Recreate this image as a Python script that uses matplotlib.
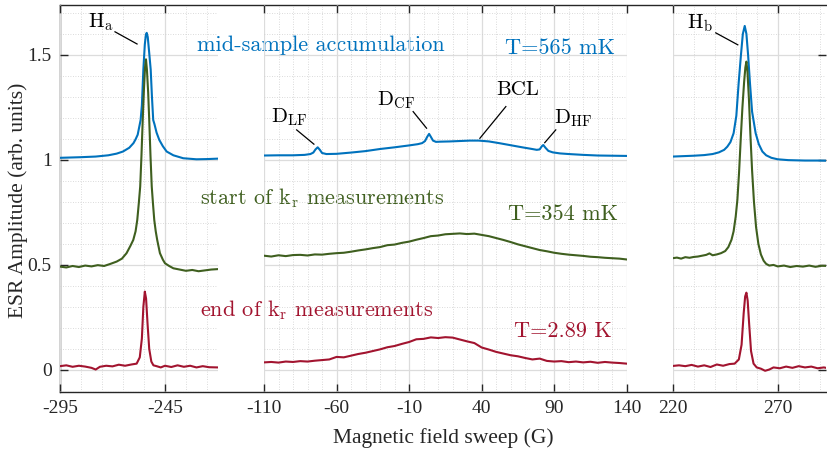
import numpy as np
import matplotlib.pyplot as plt
from matplotlib.ticker import FixedLocator, FuncFormatter

plt.rcParams['axes.unicode_minus'] = False
plt.rcParams['mathtext.fontset'] = 'cm'

# --- dane ---
# panel lewy (linia Ha)
xa_blue = [-295, -285, -278, -272, -268, -265, -262, -260, -259, -258, -257.2, -256.6, -256, -255.3, -254.6,
           -254.1, -253.7, -253.2, -252.6, -251.8, -251.2, -250.6, -250, -249, -247.7, -246, -244.2, -241,
           -236.3, -230, -225, -220]
ya_blue = [1.010, 1.013, 1.016, 1.022, 1.030, 1.040, 1.058, 1.080, 1.098, 1.12, 1.16, 1.19, 1.26, 1.43, 1.55,
           1.595, 1.605, 1.585, 1.52, 1.43, 1.30, 1.19, 1.17, 1.13, 1.095, 1.065, 1.04, 1.022, 1.008, 1.003,
           1.004, 1.006]

xa_green = [-295, -292, -289, -286, -283, -280, -277, -274, -271, -268, -265.5, -263.3, -261.5, -260.1, -259,
            -258.2, -257.5, -256.8, -256.2, -255.6, -255, -254.5, -254.05, -253.6, -253, -252.5, -251.9, -251.3,
            -250.7, -250.1, -249.4, -248.7, -247.4, -246, -245, -243, -241, -238, -235, -232, -229, -226, -223,
            -220]
ya_green = [0.492, 0.488, 0.495, 0.490, 0.497, 0.493, 0.499, 0.495, 0.505, 0.516, 0.530, 0.556, 0.590, 0.619,
            0.66, 0.714, 0.79, 0.873, 1.02, 1.19, 1.34, 1.44, 1.479, 1.43, 1.32, 1.19, 1.02, 0.873, 0.79, 0.714,
            0.66, 0.619, 0.556, 0.525, 0.508, 0.495, 0.484, 0.478, 0.472, 0.476, 0.470, 0.474, 0.478, 0.48]

xa_red = [-295, -292, -289, -286, -283, -280, -278, -276, -273, -270, -267, -264, -261, -258.5, -257, -256,
          -255.3, -254.6, -254, -253.3, -252.5, -251.5, -250.5, -249, -247, -245, -242, -239, -236, -233, -230,
          -227, -224, -220]
ya_red = [0.018, 0.022, 0.015, 0.020, 0.016, 0.010, 0.002, 0.015, 0.020, 0.017, 0.025, 0.020, 0.026, 0.03, 0.06,
          0.15, 0.30, 0.373, 0.34, 0.22, 0.10, 0.04, 0.022, 0.018, 0.012, 0.020, 0.014, 0.022, 0.015, 0.020,
          0.012, 0.018, 0.013, 0.012]

# panel srodkowy (linie D i BCL)
xm_blue = [-110, -100, -90, -82, -78, -76, -74.5, -73, -71.5, -70, -67, -60, -50, -40, -30, -20, -10, -4, -1, 1,
           2.5, 3.8, 5, 6.5, 8.5, 12, 18, 25, 32, 38, 45, 52, 60, 68, 74, 78, 80, 81.5, 82.5, 84, 86, 89, 94, 100,
           110, 120, 130, 140]
ym_blue = [1.021, 1.022, 1.022, 1.024, 1.028, 1.035, 1.05, 1.06, 1.048, 1.033, 1.028, 1.029, 1.035, 1.042, 1.052,
           1.060, 1.069, 1.075, 1.080, 1.090, 1.11, 1.124, 1.11, 1.092, 1.086, 1.087, 1.088, 1.090, 1.092, 1.092,
           1.088, 1.080, 1.070, 1.060, 1.053, 1.048, 1.050, 1.065, 1.071, 1.058, 1.043, 1.036, 1.031, 1.028,
           1.024, 1.021, 1.020, 1.019]

xm = list(range(-110, 141, 5))
ym_green = [0.544, 0.540, 0.546, 0.542, 0.547, 0.548, 0.545, 0.550, 0.549, 0.553, 0.556, 0.558, 0.563, 0.569,
            0.574, 0.580, 0.585, 0.594, 0.597, 0.605, 0.611, 0.620, 0.628, 0.637, 0.640, 0.646, 0.648, 0.650,
            0.647, 0.649, 0.643, 0.637, 0.628, 0.619, 0.609, 0.598, 0.589, 0.580, 0.571, 0.565, 0.558, 0.553,
            0.549, 0.546, 0.543, 0.539, 0.537, 0.534, 0.532, 0.530, 0.526]
ym_red = [0.036, 0.038, 0.035, 0.040, 0.038, 0.042, 0.040, 0.044, 0.047, 0.050, 0.062, 0.060, 0.068, 0.076,
          0.082, 0.090, 0.098, 0.108, 0.114, 0.124, 0.133, 0.146, 0.148, 0.155, 0.152, 0.156, 0.154, 0.145,
          0.136, 0.128, 0.107, 0.097, 0.086, 0.078, 0.070, 0.065, 0.057, 0.050, 0.054, 0.043, 0.040, 0.042,
          0.037, 0.040, 0.036, 0.039, 0.034, 0.038, 0.035, 0.033, 0.030]

# panel prawy (linia Hb)
xb_blue = [220, 225, 230, 235, 239, 242, 244.5, 246, 247.5, 249, 250.3, 251.4, 252.5, 253.4, 254.3, 255.1, 255.9,
           256.8, 257.8, 259.5, 261, 262.7, 264.5, 267, 270, 275, 283, 289, 295]
yb_blue = [1.016, 1.018, 1.02, 1.023, 1.028, 1.036, 1.048, 1.063, 1.085, 1.127, 1.21, 1.365, 1.50, 1.60, 1.638,
           1.60, 1.50, 1.365, 1.23, 1.127, 1.075, 1.04, 1.022, 1.01, 1.003, 0.999, 0.997, 0.997, 0.996]

xb_green = [220, 222, 224, 226, 228, 230, 232, 234, 236, 237.5, 239, 241, 243, 245, 246.5, 248, 249, 250, 250.8,
            251.6, 252.4, 253.2, 254, 254.6, 255.1, 255.6, 256.3, 257, 257.8, 258.7, 259.7, 260.8, 262, 263.3,
            264.5, 266, 268, 270, 273, 276, 279, 282, 285, 288, 291, 295]
yb_green = [0.532, 0.535, 0.530, 0.537, 0.534, 0.538, 0.540, 0.544, 0.548, 0.555, 0.546, 0.550, 0.556, 0.566,
            0.585, 0.62, 0.66, 0.73, 0.81, 0.94, 1.10, 1.25, 1.37, 1.44, 1.468, 1.42, 1.29, 1.12, 0.95, 0.80,
            0.68, 0.60, 0.55, 0.52, 0.505, 0.497, 0.500, 0.493, 0.497, 0.490, 0.495, 0.492, 0.497, 0.491, 0.496,
            0.495]

xb_red = [220, 223, 226, 229, 232, 235, 238, 241, 244, 247, 249.5, 251.5, 252.8, 253.8, 254.5, 255.1, 255.7,
          256.4, 257.3, 258.5, 260, 262, 264, 266, 268, 271, 274, 277, 280, 283, 286, 289, 292, 295]
yb_red = [0.019, 0.022, 0.018, 0.024, 0.016, 0.022, 0.014, 0.026, 0.020, 0.028, 0.03, 0.05, 0.12, 0.27, 0.35,
          0.368, 0.33, 0.22, 0.09, 0.03, 0.012, 0.006, -0.004, 0.002, 0.012, 0.008, 0.016, 0.010, 0.018, 0.012,
          0.016, 0.008, 0.012, 0.006]

blue = '#0072BD'
green = '#3F5F1F'
red = '#A2142F'

W, H = 827, 455
fig = plt.figure(figsize=(W / 100, H / 100), dpi=100)

y_top, y_bot = 4.5, 392
ylim = (-0.105, 1.74)


def box(x0, x1):
    return [x0 / W, (H - y_bot) / H, (x1 - x0) / W, (y_bot - y_top) / H]


# ramka wspolna
frame = fig.add_axes(box(60, 826), zorder=0)
frame.set_xticks([])
frame.set_yticks([])
frame.patch.set_visible(False)
frame.spines['right'].set_visible(False)
for s in ['left', 'top', 'bottom']:
    frame.spines[s].set_color('#262626')
    frame.spines[s].set_linewidth(1.0)

panels = [
    (60, 218.3, (-295, -219.6), [-295, -245], np.arange(-285, -215, 10)),
    (264, 626.7, (-110, 140), [-110, -60, -10, 40, 90, 140], np.arange(-100, 140, 10)),
    (672.7, 826, (220, 293.0), [220, 270], np.arange(230, 300, 10)),
]
curves = [
    [(xa_blue, ya_blue, blue), (xa_green, ya_green, green), (xa_red, ya_red, red)],
    [(xm_blue, ym_blue, blue), (xm, ym_green, green), (xm, ym_red, red)],
    [(xb_blue, yb_blue, blue), (xb_green, yb_green, green), (xb_red, yb_red, red)],
]

axes = []
for i, (x0, x1, xl, major, minor) in enumerate(panels):
    ax = fig.add_axes(box(x0, x1), zorder=1)
    ax.patch.set_visible(False)
    for s in ax.spines.values():
        s.set_visible(False)
    ax.set_xlim(*xl)
    ax.set_ylim(*ylim)
    ax.xaxis.set_major_locator(FixedLocator(major))
    ax.xaxis.set_minor_locator(FixedLocator(minor))
    ax.yaxis.set_major_locator(FixedLocator([0, 0.5, 1, 1.5]))
    ax.yaxis.set_minor_locator(FixedLocator(np.arange(-0.1, 1.75, 0.1)))
    ax.yaxis.set_major_formatter(FuncFormatter(lambda v, p: '%g' % v))
    ax.grid(True, which='major', color='#dcdcdc', lw=0.9, ls='-')
    ax.grid(True, which='minor', color='#cfcfcf', lw=0.6, ls=(0, (1, 2)))
    ax.set_axisbelow(True)
    ax.tick_params(which='minor', length=0)
    ax.tick_params(which='major', direction='in', length=6, width=1.0, color='#262626',
                   top=True, bottom=True, left=(i == 0), right=(i == 2),
                   labelleft=(i == 0), labelright=False, labelsize=14, pad=6)
    for lab in ax.get_xticklabels() + ax.get_yticklabels():
        lab.set_fontfamily('Liberation Serif')
        lab.set_color('#262626')
    for xs, ys, c in curves[i]:
        ax.plot(xs, ys, color=c, lw=1.5)
    axes.append(ax)

ax1, ax2, ax3 = axes

cm = 'cmr10'
lab_kw = dict(fontfamily=cm, color='black', fontsize=15, ha='center', va='center')
line_kw = dict(color='black', lw=0.9)

ax1.text(-275.5, 1.657, r'H$_\mathrm{a}$', **lab_kw)
ax1.plot([-268.8, -258.3], [1.61, 1.552], **line_kw)
ax3.text(232.9, 1.652, r'H$_\mathrm{b}$', **lab_kw)
ax3.plot([240.5, 251], [1.605, 1.548], **line_kw)

ax2.text(-92.8, 1.205, r'D$_\mathrm{LF}$', **lab_kw)
ax2.plot([-87.5, -75.6], [1.143, 1.075], **line_kw)
ax2.text(-19.1, 1.286, r'D$_\mathrm{CF}$', **lab_kw)
ax2.plot([-7.2, 2.05], [1.230, 1.151], **line_kw)
ax2.text(64.9, 1.333, 'BCL', **lab_kw)
ax2.plot([56.7, 38.8], [1.254, 1.103], **line_kw)
ax2.text(103.5, 1.2, r'D$_\mathrm{HF}$', **lab_kw)
ax2.plot([91.1, 83.5], [1.143, 1.082], **line_kw)

txt_kw = dict(fontfamily=cm, fontsize=16, va='baseline', clip_on=False)
ax1.text(-229.8, 1.517, 'mid-sample accumulation', color=blue, ha='left', **txt_kw)
ax1.text(-228.3, 0.790, r'start of k$_\mathrm{r}$ measurements', color=green, ha='left', **txt_kw)
ax1.text(-228.3, 0.254, r'end of k$_\mathrm{r}$ measurements', color=red, ha='left', **txt_kw)
ax2.text(131.7, 1.503, 'T=565 mK', color=blue, ha='right', **txt_kw)
ax2.text(133.8, 0.714, 'T=354 mK', color=green, ha='right', **txt_kw)
ax2.text(129.7, 0.159, 'T=2.89 K', color=red, ha='right', **txt_kw)

fig.text(443 / W, 1 - 438 / H, 'Magnetic field sweep (G)', fontfamily='Liberation Serif', fontsize=15.5,
         color='#262626', ha='center', va='center')
fig.text(18 / W, 1 - 200 / H, 'ESR Amplitude (arb. units)', fontfamily='Liberation Serif', fontsize=15.5,
         color='#262626', ha='center', va='center', rotation=90)

fig.savefig('out.png', dpi=100)
